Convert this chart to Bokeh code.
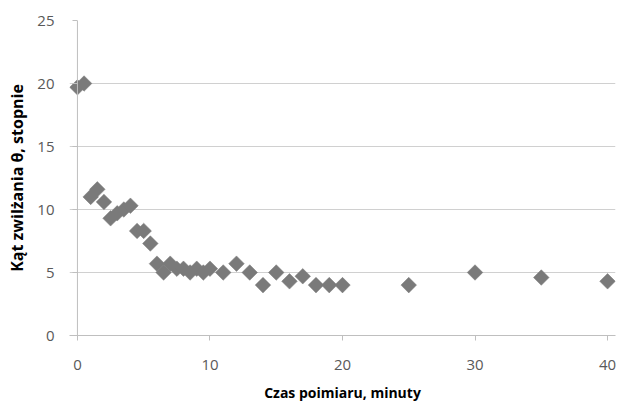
from bokeh.plotting import figure
from bokeh.models import Range1d, Span, FixedTicker
from bokeh.embed import file_html
from bokeh.resources import INLINE
import math

# Data
czas_min = [0, 0.5, 1, 1.5, 2, 2.5, 3, 3.5, 4, 4.5, 5, 5.5, 6, 6.5, 7, 7.5, 8, 8.5,
            9, 9.5, 10, 11, 12, 13, 14, 15, 16, 17, 18, 19, 20, 25, 30, 35, 40]
kat_stopnie = [19.7, 20.0, 11.0, 11.6, 10.6, 9.3, 9.7, 10.0, 10.3, 8.3, 8.3, 7.3, 5.7, 5.0,
               5.7, 5.3, 5.3, 5.0, 5.3, 5.0, 5.3, 5.0, 5.7, 5.0, 4.0, 5.0, 4.3, 4.7,
               4.0, 4.0, 4.0, 4.0, 5.0, 4.6, 4.3]
x_ticks = [0, 10, 20, 30, 40]
y_ticks = [0, 5, 10, 15, 20, 25]

p = figure(width=621, height=409, output_backend="svg", toolbar_location=None,
           x_range=Range1d(-0.6, 40.6), y_range=Range1d(0, 25),
           min_border_left=69, min_border_right=6, min_border_top=20, min_border_bottom=74)
p.outline_line_color = None
p.background_fill_color = "white"
p.border_fill_color = "white"

p.xgrid.visible = False
p.ygrid.grid_line_color = "#d0d0d0"
p.ygrid.grid_line_width = 1

tick_font = "Open Sans"
for ax in (p.xaxis, p.yaxis):
    ax.major_label_text_font = tick_font
    ax.major_label_text_font_size = "15px"
    ax.major_label_text_color = "#595959"
    ax.minor_tick_line_color = None
    ax.major_tick_line_color = "#bfbfbf"
    ax.axis_line_color = "#bfbfbf"
    ax.axis_label_text_font = "Open Sans"
    ax.axis_label_text_font_style = "bold"
    ax.axis_label_text_color = "#000000"

p.xaxis.ticker = FixedTicker(ticks=x_ticks)
p.yaxis.ticker = FixedTicker(ticks=y_ticks)
p.xaxis.major_tick_in = 0
p.xaxis.major_tick_out = 5
p.xaxis.major_label_standoff = 19
p.xaxis.axis_label = "Czas poimiaru, minuty"
p.xaxis.axis_label_text_font_size = "14px"
p.xaxis.axis_label_standoff = 10

p.yaxis.axis_line_color = None
p.yaxis.major_tick_in = 8
p.yaxis.major_tick_out = -3
p.yaxis.major_label_standoff = 15
p.yaxis.axis_label = "Kąt zwilżania θ, stopnie"
p.yaxis.axis_label_text_font_size = "16px"
p.yaxis.axis_label_standoff = 6

p.add_layout(Span(location=0, dimension="height", line_color="#bfbfbf", line_width=1))

p.scatter(czas_min, kat_stopnie, marker="square", size=11, angle=math.pi / 4,
          fill_color="#7a7a7a", line_color="#7a7a7a", line_width=0.5)

open("out.html", "w").write(file_html(p, INLINE))
